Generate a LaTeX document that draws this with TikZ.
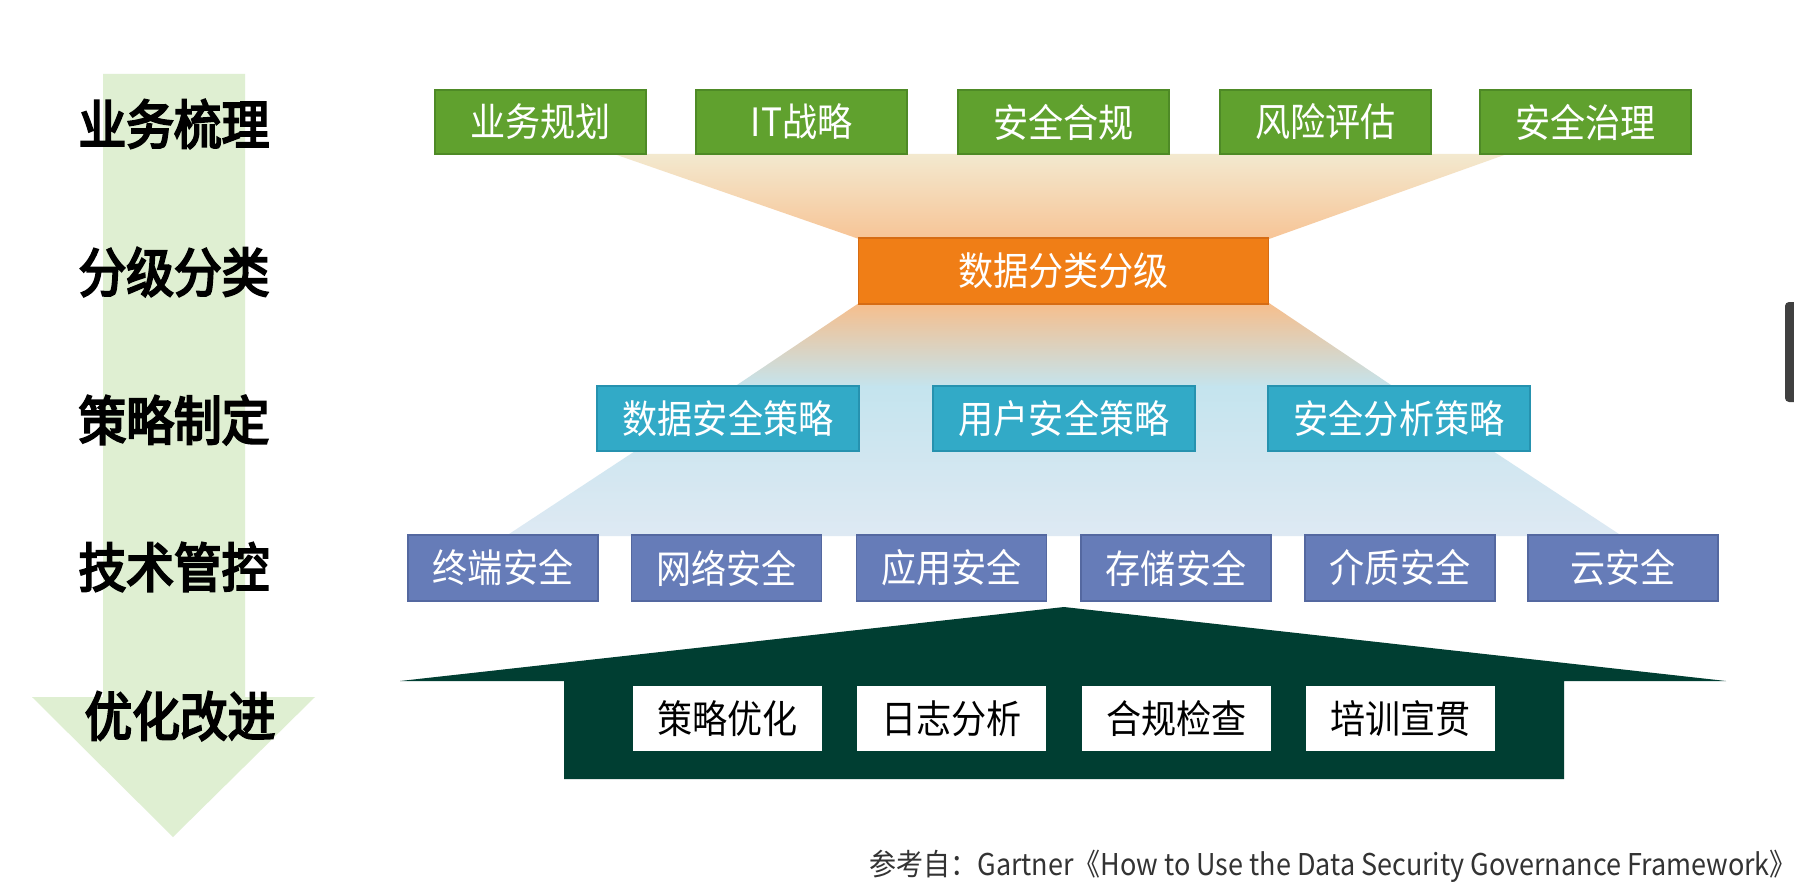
\documentclass[tikz,border=0pt]{standalone}
\usepackage{fontspec}
\setmainfont{Noto Sans CJK SC}
\newfontfamily\cjk[FakeStretch=0.9]{Noto Sans CJK SC}
\newfontfamily\cjkbold[FakeBold=4,FakeStretch=0.9]{Noto Sans CJK SC}
\begin{document}
\begin{tikzpicture}[x=0.5pt,y=-0.5pt,
  box/.style={draw, line width=0.6pt, inner sep=0pt, font=\cjk\fontsize{19.5pt}{22pt}\selectfont, text=white},
  gbox/.style={box, fill=leafgreen, draw=leafgreendark, minimum width=105.5pt, minimum height=32pt},
  obox/.style={box, fill=orangebox, draw=orangedark, minimum width=205pt, minimum height=33pt},
  tbox/.style={box, fill=tealbox, draw=tealdark, minimum width=131pt, minimum height=32.5pt},
  bbox/.style={box, fill=bluebox, draw=bluedark, minimum width=95pt, minimum height=33pt},
  wbox/.style={box, fill=white, draw=white, text=black, minimum width=93.5pt, minimum height=31.5pt},
  sidelabel/.style={font=\cjkbold\fontsize{26.5pt}{30pt}\selectfont, text=black, inner sep=0pt}
]
\definecolor{leafgreen}{RGB}{96,161,46}
\definecolor{leafgreendark}{RGB}{78,138,38}
\definecolor{orangebox}{RGB}{240,126,22}
\definecolor{orangedark}{RGB}{214,108,20}
\definecolor{tealbox}{RGB}{50,170,199}
\definecolor{tealdark}{RGB}{38,146,175}
\definecolor{bluebox}{RGB}{102,124,184}
\definecolor{bluedark}{RGB}{84,104,160}
\definecolor{housegreen}{RGB}{0,62,50}
\definecolor{arrowgreen}{RGB}{223,239,210}
\definecolor{funtop}{RGB}{243,233,207}
\definecolor{funmid}{RGB}{247,196,150}
\definecolor{funpeach}{RGB}{246,190,140}
\definecolor{funblue}{RGB}{196,228,238}
\definecolor{funpale}{RGB}{222,233,243}
\definecolor{scrollgray}{RGB}{64,64,64}

\useasboundingbox (0,0) rectangle (1794,888);
\fill[white] (0,0) rectangle (1794,888);

% big green down arrow
\fill[arrowgreen] (103,74) -- (245,74) -- (245,697) -- (315,697) -- (173,837) -- (32,697) -- (103,697) -- cycle;

% funnels
\shade[top color=funtop, bottom color=funmid] (614,154) -- (1507,154) -- (1269,239) -- (859,239) -- cycle;
\shade[top color=funpeach, bottom color=funblue] (859,303) -- (1269,303) -- (1394,387) -- (734,387) -- cycle;
\shade[top color=funblue, bottom color=funpale] (734,386) -- (1394,386) -- (1622,536) -- (506,536) -- cycle;

% house
\fill[housegreen] (1064,607) -- (1726,681) -- (1564,681) -- (1564,779) -- (564,779) -- (564,681) -- (400,681) -- cycle;

% top row
\node[gbox] (g1) at (540.5,122) {业务规划};
\node[gbox] (g2) at (801.5,122) {IT战略};
\node[gbox] (g3) at (1063.5,122) {安全合规};
\node[gbox] (g4) at (1325.5,122) {风险评估};
\node[gbox] (g5) at (1585.5,122) {安全治理};

% orange
\node[obox] (o1) at (1063.5,271) {数据分类分级};

% teal row
\node[tbox] (t1) at (728,418.5) {数据安全策略};
\node[tbox] (t2) at (1064,418.5) {用户安全策略};
\node[tbox] (t3) at (1399,418.5) {安全分析策略};

% blue row
\node[bbox] (b1) at (503,568) {终端安全};
\node[bbox] (b2) at (726.5,568) {网络安全};
\node[bbox] (b3) at (951.5,568) {应用安全};
\node[bbox] (b4) at (1176,568) {存储安全};
\node[bbox] (b5) at (1400,568) {介质安全};
\node[bbox] (b6) at (1623,568) {云安全};

% white boxes
\node[wbox] (w1) at (727.5,718.5) {策略优化};
\node[wbox] (w2) at (951.5,718.5) {日志分析};
\node[wbox] (w3) at (1176.5,718.5) {合规检查};
\node[wbox] (w4) at (1400.5,718.5) {培训宣贯};

% side labels
\node[sidelabel] (l1) at (174,124) {业务梳理};
\node[sidelabel] (l2) at (174,272) {分级分类};
\node[sidelabel] (l3) at (174,420) {策略制定};
\node[sidelabel] (l4) at (174,567) {技术管控};
\node[sidelabel] (l5) at (180,716) {优化改进};

% caption
\node[anchor=west, inner sep=0pt, font=\cjk\fontsize{15pt}{17pt}\selectfont, text=black!80] (cap) at (869,866) {参考自：Gartner《How to Use the Data Security Governance Framework》};

% scrollbar artifact
\fill[scrollgray, rounded corners=2pt] (1785,302) rectangle (1798,402);
\end{tikzpicture}
\end{document}
